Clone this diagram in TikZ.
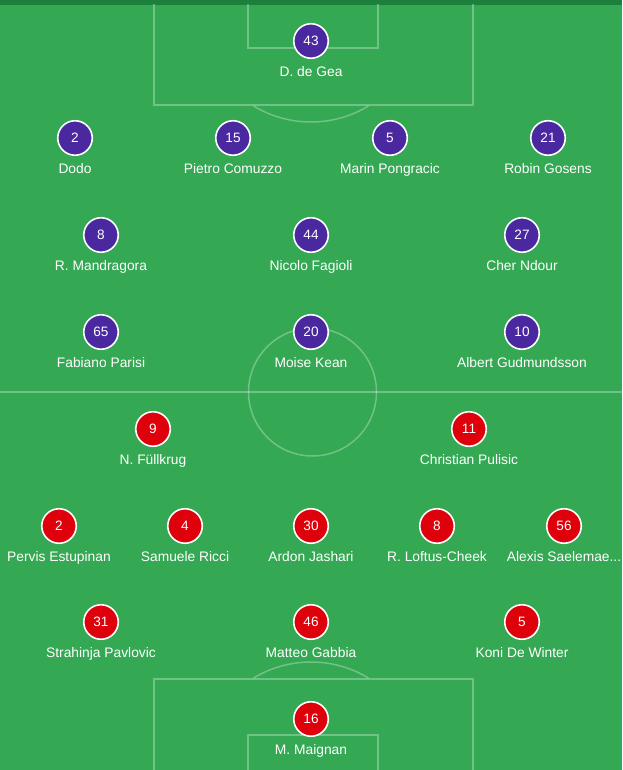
\documentclass[tikz,border=0pt]{standalone}
\usepackage{fontspec}
\setmainfont{Liberation Sans}
\usetikzlibrary{positioning}

\definecolor{pitch}{RGB}{52,168,83}
\definecolor{strip}{RGB}{29,128,58}
\definecolor{homecol}{RGB}{74,40,160}
\definecolor{awaycol}{RGB}{222,0,10}

\begin{document}
\begin{tikzpicture}[x=1pt,y=-1pt,
  line/.style={draw=white,draw opacity=0.3,line width=1.5pt},
  home/.style={circle,fill=homecol,draw=white,line width=1.6pt,minimum size=34.5pt,inner sep=0pt,text=white,font=\fontsize{13.6}{15}\selectfont},
  away/.style={home,fill=awaycol},
  plname/.style={anchor=base,inner sep=0pt,text=white,font=\fontsize{13.8}{15}\selectfont}]
\useasboundingbox (0,0) rectangle (622,770);
\fill [pitch] (0,0) rectangle (622,770);
\fill [strip] (0,0) rectangle (622,5);
\begin{scope}
\clip (0,5) rectangle (622,770);
% top half
\draw [line] (154,0) -- (154,105) -- (473,105) -- (473,0);
\draw [line] (248,0) -- (248,48) -- (378,48) -- (378,0);
\draw [line] (311,11) ++(121.2:111) arc[start angle=121.2,end angle=58.8,radius=111];
% middle
\draw [line] (0,392) -- (622,392);
\draw [line] (312.5,392) circle (64);
% bottom half
\draw [line] (154,780) -- (154,679) -- (473,679) -- (473,780);
\draw [line] (248,780) -- (248,735) -- (378,735) -- (378,780);
\draw [line] (311,773) ++(-121.2:111) arc[start angle=-121.2,end angle=-58.8,radius=111];
\end{scope}
% home side
\node (h43) [home] at (311,41) {43};
\node (h2) [home] at (75,138) {2};
\node (h15) [home] at (233,138) {15};
\node (h5) [home] at (390,138) {5};
\node (h21) [home] at (548,138) {21};
\node (h8) [home] at (101,235) {8};
\node (h44) [home] at (311,235) {44};
\node (h27) [home] at (522,235) {27};
\node (h65) [home] at (101,332) {65};
\node (h20) [home] at (311,332) {20};
\node (h10) [home] at (522,332) {10};
\node (nh43) [plname] at (311,76.5) {D. de Gea};
\node (nh2) [plname] at (75,173.5) {Dodo};
\node (nh15) [plname] at (233,173.5) {Pietro Comuzzo};
\node (nh5) [plname] at (390,173.5) {Marin Pongracic};
\node (nh21) [plname] at (548,173.5) {Robin Gosens};
\node (nh8) [plname] at (101,270.5) {R. Mandragora};
\node (nh44) [plname] at (311,270.5) {Nicolo Fagioli};
\node (nh27) [plname] at (522,270.5) {Cher Ndour};
\node (nh65) [plname] at (101,367.5) {Fabiano Parisi};
\node (nh20) [plname] at (311,367.5) {Moise Kean};
\node (nh10) [plname] at (522,367.5) {Albert Gudmundsson};
% away side
\node (a9) [away] at (153,429) {9};
\node (a11) [away] at (469,429) {11};
\node (a2) [away] at (59,526) {2};
\node (a4) [away] at (185,526) {4};
\node (a30) [away] at (311,526) {30};
\node (a8) [away] at (437,526) {8};
\node (a56) [away] at (564,526) {56};
\node (a31) [away] at (101,622) {31};
\node (a46) [away] at (311,622) {46};
\node (a5) [away] at (522,622) {5};
\node (a16) [away] at (311,719) {16};
\node (na9) [plname] at (153,464.5) {N. Füllkrug};
\node (na11) [plname] at (469,464.5) {Christian Pulisic};
\node (na2) [plname] at (59,561.5) {Pervis Estupinan};
\node (na4) [plname] at (185,561.5) {Samuele Ricci};
\node (na30) [plname] at (311,561.5) {Ardon Jashari};
\node (na8) [plname] at (437,561.5) {R. Loftus-Cheek};
\node (na56) [plname] at (564,561.5) {Alexis Saelemae...};
\node (na31) [plname] at (101,657.5) {Strahinja Pavlovic};
\node (na46) [plname] at (311,657.5) {Matteo Gabbia};
\node (na5) [plname] at (522,657.5) {Koni De Winter};
\node (na16) [plname] at (311,754.5) {M. Maignan};
\end{tikzpicture}
\end{document}
